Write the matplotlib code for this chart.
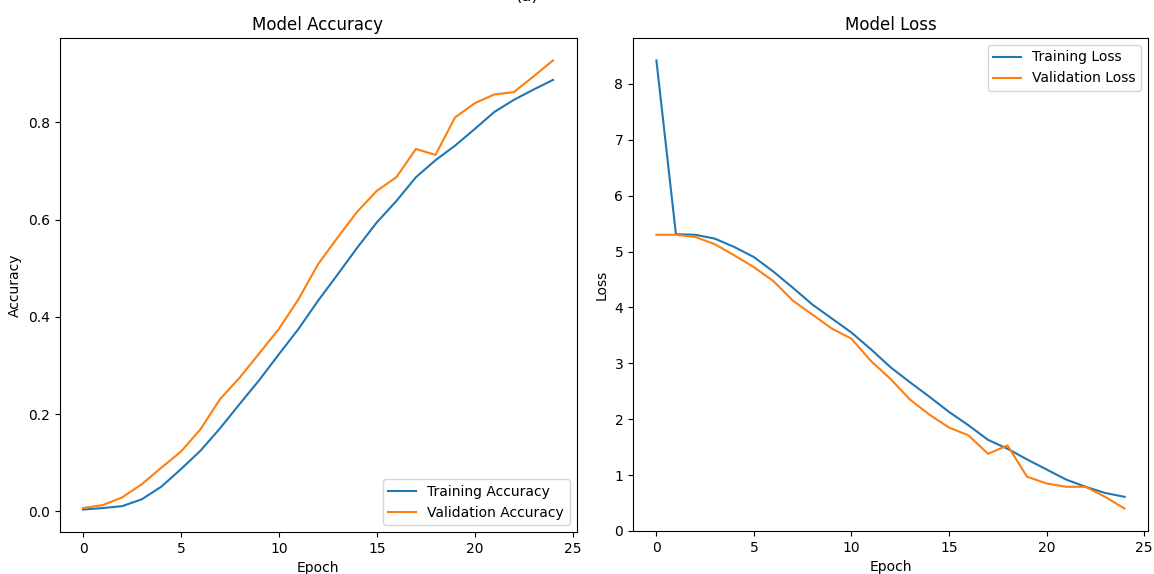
import matplotlib
matplotlib.use("Agg")
import matplotlib.pyplot as plt
import numpy as np

epochs = list(range(25))

train_acc = [0.004, 0.007, 0.011, 0.025, 0.051, 0.087, 0.125, 0.171, 0.221, 0.270,
             0.323, 0.375, 0.433, 0.487, 0.542, 0.594, 0.638, 0.687, 0.722, 0.752,
             0.786, 0.821, 0.846, 0.867, 0.887]
val_acc = [0.007, 0.013, 0.029, 0.056, 0.090, 0.123, 0.169, 0.231, 0.275, 0.325,
           0.375, 0.436, 0.508, 0.563, 0.616, 0.659, 0.687, 0.745, 0.733, 0.810,
           0.839, 0.857, 0.862, 0.894, 0.927]

train_loss = [8.42, 5.31, 5.30, 5.23, 5.08, 4.90, 4.64, 4.35, 4.05, 3.80,
              3.55, 3.25, 2.93, 2.66, 2.40, 2.13, 1.89, 1.63, 1.47, 1.28,
              1.10, 0.92, 0.79, 0.68, 0.61]
val_loss = [5.30, 5.30, 5.26, 5.13, 4.93, 4.72, 4.47, 4.12, 3.87, 3.62,
            3.44, 3.04, 2.72, 2.35, 2.08, 1.85, 1.71, 1.38, 1.53, 0.97,
            0.85, 0.79, 0.79, 0.61, 0.40]

fig = plt.figure(figsize=(11.54, 5.74), dpi=100)
ax1 = fig.add_axes([59.5/1154, 1 - 532/574, (576.5 - 59.5)/1154, (532 - 38)/574])
ax2 = fig.add_axes([633/1154, 1 - 531/574, (1148 - 633)/1154, (531 - 38)/574])

ax1.plot(epochs, train_acc, label="Training Accuracy")
ax1.plot(epochs, val_acc, label="Validation Accuracy")
ax1.set_title("Model Accuracy", fontsize=12)
ax1.set_xlabel("Epoch")
ax1.set_ylabel("Accuracy")
ax1.legend(loc="lower right")

ax2.plot(epochs, train_loss, label="Training Loss")
ax2.plot(epochs, val_loss, label="Validation Loss")
ax2.set_title("Model Loss", fontsize=12)
ax2.set_xlabel("Epoch")
ax2.set_ylabel("Loss")
ax2.legend(loc="upper right")

fig.text(527/1154, 1 - 1/574, "(a)", fontsize=12, ha="center", va="baseline")

fig.savefig("out.png", dpi=100)
